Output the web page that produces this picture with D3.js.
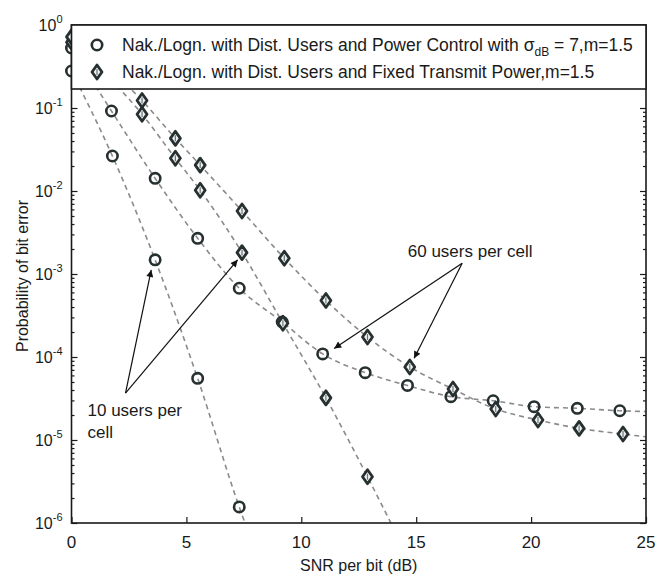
<!DOCTYPE html>
<html><head><meta charset="utf-8">
<script src="https://cdn.jsdelivr.net/npm/d3@7"></script>
<style>
body{margin:0;background:#fff}
svg{display:block}
text{font-family:"Liberation Sans",Arial,sans-serif;fill:#1a1a1a}
</style>
</head><body>
<svg id="c" width="656" height="575"></svg>
<script>
// ---- data (SNR per bit in dB, probability of bit error) ----
const snrPC10 = [0, 1.78, 3.64, 5.49, 7.3];
const pbPC10  = [0.279, 0.0264, 1.48e-3, 5.53e-5, 1.56e-6];
const snrPC60 = [0, 1.74, 3.64, 5.49, 7.3, 9.17, 10.93, 12.78, 14.62, 16.51, 18.35, 20.13, 22.01, 23.86];
const pbPC60  = [0.528, 0.092, 0.0142, 2.69e-3, 6.73e-4, 2.64e-4, 1.09e-4, 6.47e-5, 4.54e-5, 3.33e-5, 2.97e-5, 2.52e-5, 2.41e-5, 2.25e-5];
const snrFix10 = [0, 3.07, 4.52, 5.6, 7.42, 9.2, 11.07, 12.88];
const pbFix10  = [0.62, 0.084, 0.0248, 0.0102, 1.81e-3, 2.55e-4, 3.22e-5, 3.61e-6];
const snrFix60 = [0, 3.07, 4.52, 5.6, 7.42, 9.26, 11.07, 12.88, 14.72, 16.6, 18.46, 20.3, 22.09, 24];
const pbFix60  = [0.72, 0.123, 0.0431, 0.0205, 5.74e-3, 1.55e-3, 4.8e-4, 1.74e-4, 7.59e-5, 4.11e-5, 2.36e-5, 1.74e-5, 1.38e-5, 1.18e-5];
// where each dashed curve leaves the plot
const curveEndSnr = [7.55, 25, 13.9, 25];
const curveEndPb  = [1e-6, 2.2e-5, 1e-6, 1.09e-5];

const xTicks = [0, 5, 10, 15, 20, 25];
const yDecades = [1e-6, 1e-5, 1e-4, 1e-3, 1e-2, 1e-1, 1];
const yTickExp = ["-6", "-5", "-4", "-3", "-2", "-1", "0"];

const legendLabels = [
  ["Nak./Logn. with Dist. Users and Power Control with σ", "dB", " = 7,m=1.5"],
  ["Nak./Logn. with Dist. Users and Fixed Transmit Power,m=1.5", "", ""]
];
const xLabel = "SNR per bit (dB)";
const yLabel = "Probability of bit error";

// annotations: text + arrows, in data coordinates
const ann10Text = ["10 users per", "cell"];
const ann10From = [2.35, 3.68e-5];
const ann10To = [[3.47, 1.12e-3], [7.23, 1.48e-3]];
const ann60Text = ["60 users per cell"];
const ann60From = [17.0, 1.35e-3];
const ann60To = [[11.43, 1.27e-4], [14.91, 9.64e-5]];

// ---- drawing ----
const svg = d3.select("#c");
svg.append("rect").attr("width",656).attr("height",575).attr("fill","#fff");

const x = d3.scaleLinear().domain([0,25]).range([71.5,646]);
const y = d3.scaleLog().domain([1e-6,1]).range([523,25]);
const X0 = x(0), X1 = x(25), Y0 = y(1e-6), Y1 = y(1);

const defs = svg.append("defs");
defs.append("clipPath").attr("id","clip")
  .append("rect").attr("x",X0).attr("y",Y1).attr("width",X1-X0).attr("height",Y0-Y1);
defs.append("marker").attr("id","ah").attr("viewBox","0 0 10 10").attr("refX",10).attr("refY",5)
  .attr("markerWidth",10).attr("markerHeight",7).attr("markerUnits","userSpaceOnUse").attr("orient","auto")
  .append("path").attr("d","M0,0 L10,5 L0,10 Z").attr("fill","#111");

const series = [
  {snr: snrPC10, pb: pbPC10, type: "circle"},
  {snr: snrPC60, pb: pbPC60, type: "circle"},
  {snr: snrFix10, pb: pbFix10, type: "diamond"},
  {snr: snrFix60, pb: pbFix60, type: "diamond"}
];

const line = d3.line().x(d=>x(d[0])).y(d=>y(d[1])).curve(d3.curveMonotoneX);
const gl = svg.append("g").attr("clip-path","url(#clip)");
series.forEach((s,i)=>{
  const pts = s.snr.map((v,j)=>[v, s.pb[j]]);
  pts.push([curveEndSnr[i], curveEndPb[i]]);
  gl.append("path").attr("d", line(pts)).attr("fill","none")
    .attr("stroke","#8a8a8a").attr("stroke-width",1.6).attr("stroke-dasharray","5,4");
});

// axes ticks
const mk = "#1a1a1a";
const minors = [];
for (let e=-6; e<0; e++) for (let m=2; m<=9; m++) minors.push(m*Math.pow(10,e));
function clean(g){ g.select(".domain").remove(); g.selectAll("line").attr("stroke",mk).attr("stroke-width",1.2); }
svg.append("g").attr("transform",`translate(${X0},0)`).call(d3.axisLeft(y).tickValues(yDecades).tickSize(-6).tickFormat("")).call(clean);
svg.append("g").attr("transform",`translate(${X0},0)`).call(d3.axisLeft(y).tickValues(minors).tickSize(-3).tickFormat("")).call(clean);
svg.append("g").attr("transform",`translate(${X1},0)`).call(d3.axisRight(y).tickValues(yDecades).tickSize(-6).tickFormat("")).call(clean);
svg.append("g").attr("transform",`translate(${X1},0)`).call(d3.axisRight(y).tickValues(minors).tickSize(-3).tickFormat("")).call(clean);
svg.append("g").attr("transform",`translate(0,${Y0})`).call(d3.axisBottom(x).tickValues(xTicks).tickSize(-6).tickFormat("")).call(clean);

// frame
svg.append("rect").attr("x",X0).attr("y",Y1).attr("width",X1-X0).attr("height",Y0-Y1)
  .attr("fill","none").attr("stroke",mk).attr("stroke-width",1.6);

// markers
const mcol = "#263030";
function drawMarker(g, type, cx, cy){
  if (type==="circle"){
    g.append("circle").attr("cx",cx).attr("cy",cy).attr("r",5.2).attr("fill","none")
      .attr("stroke",mcol).attr("stroke-width",2.6);
  } else {
    g.append("path").attr("d",`M${cx},${cy-7} L${cx+5},${cy} L${cx},${cy+7} L${cx-5},${cy} Z`)
      .attr("fill","#f0f0f0").attr("stroke",mcol).attr("stroke-width",2.8).attr("stroke-linejoin","round");
    g.append("line").attr("x1",cx).attr("x2",cx).attr("y1",cy-3).attr("y2",cy+3)
      .attr("stroke","#6a7474").attr("stroke-width",1.2);
  }
}
const gm = svg.append("g");
series.forEach(s=>{ s.snr.forEach((v,j)=>drawMarker(gm, s.type, x(v), y(s.pb[j]))); });

// annotations
const ga = svg.append("g");
ann10To.forEach(t=>{
  ga.append("line").attr("x1",x(ann10From[0])).attr("y1",y(ann10From[1]))
    .attr("x2",x(t[0])).attr("y2",y(t[1])).attr("stroke","#111").attr("stroke-width",1.2).attr("marker-end","url(#ah)");
});
ann60To.forEach(t=>{
  ga.append("line").attr("x1",x(ann60From[0])).attr("y1",y(ann60From[1]))
    .attr("x2",x(t[0])).attr("y2",y(t[1])).attr("stroke","#111").attr("stroke-width",1.2).attr("marker-end","url(#ah)");
});
ann10Text.forEach((t,i)=>{
  ga.append("text").attr("x",x(ann10From[0])-38).attr("y",y(ann10From[1])+23+i*22)
    .attr("font-size",17).text(t);
});
ga.append("text").attr("x",x(ann60From[0])+8).attr("y",y(ann60From[1])-6)
  .attr("text-anchor","middle").attr("font-size",17).text(ann60Text[0]);

// tick labels
yDecades.forEach((d,i)=>{
  const t = svg.append("text").attr("x",X0-9).attr("y",y(d)+6).attr("text-anchor","end").attr("font-size",16);
  t.append("tspan").text("10");
  t.append("tspan").attr("dy",-8).attr("font-size",11).text(yTickExp[i]);
});
xTicks.forEach(v=>{
  svg.append("text").attr("x",x(v)).attr("y",Y0+25).attr("text-anchor","middle").attr("font-size",17).text(v);
});
svg.append("text").attr("x",(X0+X1)/2).attr("y",571).attr("text-anchor","middle").attr("font-size",16).text(xLabel);
svg.append("text").attr("transform",`translate(28,276) rotate(-90)`).attr("text-anchor","middle").attr("font-size",16).text(yLabel);

// legend
const lg = svg.append("g");
lg.append("rect").attr("x",X0).attr("y",Y1).attr("width",X1-X0).attr("height",64)
  .attr("fill","#fff").attr("stroke",mk).attr("stroke-width",1.6);
legendLabels.forEach((lab,i)=>{
  const cy = 45 + i*27;
  drawMarker(lg, series[i===0?1:3].type, 97, cy);
  const t = lg.append("text").attr("x",122).attr("y",cy+6).attr("font-size",17.5);
  t.append("tspan").text(lab[0]);
  if (lab[1]) t.append("tspan").attr("dy",5).attr("font-size",12).text(lab[1]);
  if (lab[2]) t.append("tspan").attr("dy",-5).text(lab[2]);
});
</script>
</body></html>
